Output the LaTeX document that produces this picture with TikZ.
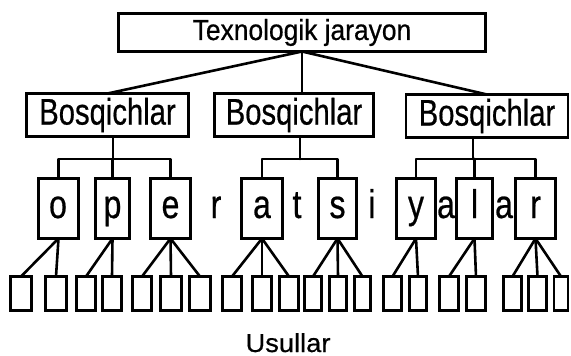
\documentclass[tikz,border=0pt]{standalone}
\usepackage{graphicx}
\usepackage{fontspec}
\setmainfont{Liberation Sans}[FakeBold=0.6]
\tikzset{
  bx/.style={draw, line width=2.8pt, inner sep=0pt, outer sep=0pt, fill=white},
  leaf/.style={bx, minimum height=34pt},
  opbox/.style={bx, minimum height=60pt},
  conn/.style={line width=2.6pt, line cap=round, line join=round},
  lt/.style={inner sep=0pt, anchor=base, font=\fontsize{40}{40}\selectfont},
}
\newcommand{\lettr}[1]{\scalebox{0.8}[1]{#1}}
\begin{document}
\begin{tikzpicture}[x=1pt,y=-1pt]
\useasboundingbox (0,0) rectangle (571,356);
% top
\node[bx, minimum width=367pt, minimum height=38pt] (top) at (302,32.5)
  {\fontsize{29}{30}\selectfont\scalebox{0.91}[1]{Texnologik jarayon}};
% stages
\node[bx, minimum width=162pt, minimum height=43pt] (b1) at (107.5,115)
  {\fontsize{37}{38}\selectfont\scalebox{0.79}[1]{Bosqichlar}};
\node[bx, minimum width=159pt, minimum height=43pt] (b2) at (294,115)
  {\fontsize{37}{38}\selectfont\scalebox{0.79}[1]{Bosqichlar}};
\node[bx, minimum width=162pt, minimum height=43pt] (b3) at (487,116)
  {\fontsize{37}{38}\selectfont\scalebox{0.79}[1]{Bosqichlar}};
% operations
\node[opbox, minimum width=40pt] (opo) at (58.5,208.5) {};
\node[opbox, minimum width=34pt] (opp) at (112.5,208.5) {};
\node[opbox, minimum width=40pt] (ope) at (170.5,208.5) {};
\node[opbox, minimum width=41pt] (opa) at (262,208.5) {};
\node[opbox, minimum width=38pt] (ops) at (337.5,208.5) {};
\node[opbox, minimum width=39pt] (opy) at (416,208.5) {};
\node[opbox, minimum width=36pt] (opl) at (474.5,208.5) {};
\node[opbox, minimum width=40pt] (opr) at (535.5,208.5) {};
% letters
\node[lt] (lo) at (58,218) {\lettr{o}};
\node[lt] (lp) at (112.5,218) {\lettr{p}};
\node[lt] (le) at (170.5,218) {\lettr{e}};
\node[lt] (lr) at (216,218) {\lettr{r}};
\node[lt] (la) at (262,218) {\lettr{a}};
\node[lt] (lt1) at (297,218) {\lettr{t}};
\node[lt] (ls) at (337.5,218) {\lettr{s}};
\node[lt] (li) at (372,218) {\lettr{i}};
\node[lt] (ly) at (416,218) {\lettr{y}};
\node[lt] (la2) at (446,218) {\lettr{a}};
\node[lt] (ll) at (474.5,218) {\lettr{l}};
\node[lt] (la3) at (504,218) {\lettr{a}};
\node[lt] (lr2) at (535.5,218) {\lettr{r}};
% leaves
\node[leaf, minimum width=21pt] (l1) at (21,293.5) {};
\node[leaf, minimum width=21pt] (l2) at (56,293.5) {};
\node[leaf, minimum width=19pt] (l3) at (86,293.5) {};
\node[leaf, minimum width=19pt] (l4) at (112,293.5) {};
\node[leaf, minimum width=19pt] (l5) at (142,293.5) {};
\node[leaf, minimum width=21pt] (l6) at (171,293.5) {};
\node[leaf, minimum width=21pt] (l7) at (200,293.5) {};
\node[leaf, minimum width=19pt] (l8) at (232,293.5) {};
\node[leaf, minimum width=19pt] (l9) at (262,293.5) {};
\node[leaf, minimum width=19pt] (l10) at (289,293.5) {};
\node[leaf, minimum width=17pt] (l11) at (313,293.5) {};
\node[leaf, minimum width=17pt] (l12) at (338,293.5) {};
\node[leaf, minimum width=16pt] (l13) at (362.5,293.5) {};
\node[leaf, minimum width=18pt] (l14) at (392.5,293.5) {};
\node[leaf, minimum width=17pt] (l15) at (418,293.5) {};
\node[leaf, minimum width=19pt] (l16) at (449,293.5) {};
\node[leaf, minimum width=19pt] (l17) at (476,293.5) {};
\node[leaf, minimum width=18pt] (l18) at (512.5,293.5) {};
\node[leaf, minimum width=18pt] (l19) at (537.5,293.5) {};
\node[leaf, minimum width=14pt] (l20) at (561,293.5) {};
% caption
\node[inner sep=0pt, anchor=base, font=\fontsize{26}{26}\selectfont] (us) at (288,352)
  {\scalebox{1.05}[1]{Usullar}};
% connectors top -> stages
\draw[conn] (top.south) -- (b1.north);
\draw[conn] (top.south) -- (top.south |- b2.north);
\draw[conn] (top.south) -- (b3.north);
% stages -> operations
\coordinate (j1) at (113,159);
\coordinate (j2) at (300,159);
\coordinate (j3) at (473,159);
\draw[conn] (j1 |- b1.south) -- (j1);
\draw[conn] (opo.north) |- (j1) -| (ope.north);
\draw[conn] (opp.north) -- (opp.north |- j1);
\draw[conn] (j2 |- b2.south) -- (j2);
\draw[conn] (opa.north) |- (j2) -| (ops.north);
\draw[conn] (j3 |- b3.south) -- (j3);
\draw[conn] (opy.north) |- (j3) -| (opr.north);
\draw[conn] (opl.north) -- (opl.north |- j3);
% operations -> leaves
\foreach \o/\l in {opo/l1,opo/l2,opp/l3,opp/l4,ope/l5,ope/l6,ope/l7,
  opa/l8,opa/l9,opa/l10,ops/l11,ops/l12,ops/l13,opy/l14,opy/l15,
  opl/l16,opl/l17,opr/l18,opr/l19,opr/l20}
  \draw[conn] (\o.south) -- (\l.north);
\end{tikzpicture}
\end{document}
